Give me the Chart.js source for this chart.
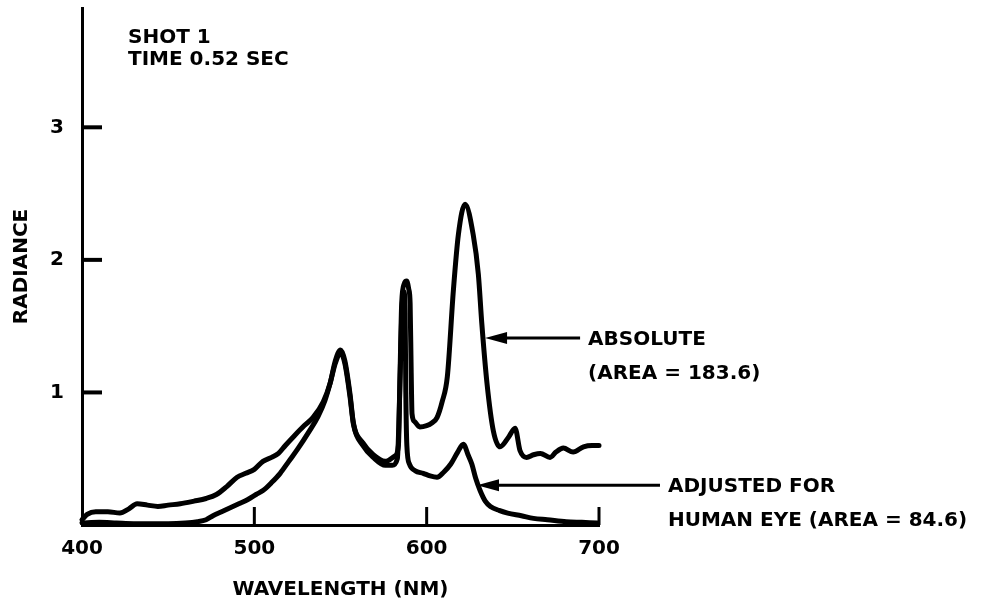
<!DOCTYPE html>
<html>
<head>
<meta charset="utf-8">
<script src="https://cdn.jsdelivr.net/npm/chart.js@4"></script>
<style>
  html, body { margin: 0; padding: 0; background: #fff; }
  #wrap { width: 984px; height: 607px; }
</style>
</head>
<body>
<div id="wrap"><canvas id="myChart"></canvas></div>
<script>
// absolute radiance (upper curve)
const absWave = [400, 403, 408, 415, 422, 427, 432, 438, 444, 450, 457, 465, 472, 478, 484, 490, 495, 500, 505, 510,
  514, 518, 523, 529, 534, 540, 544, 547, 550, 552.5, 555.5, 557.5, 563, 569, 576, 581.5, 583.6, 584.6, 585.5, 587,
  588.4, 589.6, 590.4, 591, 591.5, 593, 596, 600, 603, 606, 609, 612, 615.5, 618.4, 622.3, 627, 630, 632, 635, 638.7,
  642.6, 647.4, 651.3, 654.2, 658, 662, 666, 671.6, 675, 679.3, 685, 691, 696, 700]
const absRad = [0.04, 0.08, 0.10, 0.10, 0.09, 0.12, 0.16, 0.15, 0.14, 0.15, 0.16, 0.18, 0.20, 0.23, 0.29, 0.36, 0.39, 0.42, 0.48, 0.51,
  0.54, 0.60, 0.67, 0.75, 0.81, 0.93, 1.07, 1.24, 1.32, 1.24, 0.99, 0.77, 0.62, 0.53, 0.48, 0.52, 0.60, 1.17, 1.67, 1.82,
  1.84, 1.78, 1.67, 1.17, 0.84, 0.78, 0.74, 0.75, 0.77, 0.81, 0.93, 1.12, 1.77, 2.19, 2.42, 2.19, 1.89, 1.52, 1.07, 0.71,
  0.59, 0.66, 0.73, 0.56, 0.51, 0.53, 0.54, 0.51, 0.55, 0.58, 0.55, 0.59, 0.60, 0.60]

// adjusted for human eye (lower curve)
const adjWave = [400, 410, 420, 430, 440, 450, 460, 467, 472, 476, 481, 486, 491, 496, 501, 505, 510, 515, 520, 525,
  532, 537, 541, 544, 547, 550, 552.5, 555.5, 557.5, 563, 569, 576, 580, 583, 584.6, 585.6, 586.8, 587.5, 587.9, 588.5,
  590, 593.3, 598, 602, 606, 610, 614, 618, 621.3, 624, 626.2, 628.5, 631, 634, 637, 642, 647, 655, 662, 670, 681, 690, 699]
const adjRad = [0.015, 0.02, 0.015, 0.01, 0.01, 0.01, 0.015, 0.025, 0.04, 0.07, 0.10, 0.13, 0.16, 0.19, 0.23, 0.26, 0.32, 0.39, 0.48, 0.57,
  0.71, 0.82, 0.94, 1.07, 1.22, 1.30, 1.22, 0.97, 0.76, 0.60, 0.51, 0.45, 0.45, 0.50, 1.12, 1.60, 1.76, 1.60, 1.00, 0.60,
  0.46, 0.41, 0.39, 0.37, 0.36, 0.40, 0.46, 0.55, 0.61, 0.53, 0.46, 0.35, 0.26, 0.18, 0.14, 0.11, 0.09, 0.07, 0.05, 0.04, 0.025, 0.02, 0.015]

const xTickLabels = [400, 500, 600, 700]
const yTickLabels = [1, 2, 3]

const font = "'DejaVu Sans', 'Liberation Sans', sans-serif"

// arrows point at the curves (data coords), text sits to the right
const notes = [
  { x: 633.9, y: 1.41, len: 95, lines: ['ABSOLUTE', '(AREA = 183.6)'] },
  { x: 629.2, y: 0.30, len: 183, lines: ['ADJUSTED FOR', 'HUMAN EYE (AREA = 84.6)'] }
]

const extras = {
  id: 'extras',
  afterDraw(chart) {
    const ctx = chart.ctx
    const xs = chart.scales.x, ys = chart.scales.y
    const area = chart.chartArea
    ctx.save()
    ctx.strokeStyle = '#000'
    ctx.fillStyle = '#000'
    ctx.lineCap = 'butt'

    // tick marks point inward
    ctx.lineWidth = 3
    xTickLabels.slice(1).forEach(v => {
      const px = xs.getPixelForValue(v)
      ctx.beginPath(); ctx.moveTo(px, area.bottom); ctx.lineTo(px, area.bottom - 18); ctx.stroke()
    })
    ctx.lineWidth = 4
    yTickLabels.forEach(v => {
      const py = ys.getPixelForValue(v)
      ctx.beginPath(); ctx.moveTo(area.left, py); ctx.lineTo(area.left + 20, py); ctx.stroke()
    })

    ctx.font = 'bold 20px ' + font
    ctx.textBaseline = 'alphabetic'
    ctx.textAlign = 'left'
    ctx.fillText('SHOT 1', 128, 43)
    ctx.fillText('TIME 0.52 SEC', 128, 65)

    notes.forEach(n => {
      const tx = xs.getPixelForValue(n.x), ty = ys.getPixelForValue(n.y)
      const ex = tx + n.len
      ctx.lineWidth = 3
      ctx.beginPath(); ctx.moveTo(tx + 18, ty); ctx.lineTo(ex, ty); ctx.stroke()
      ctx.beginPath()
      ctx.moveTo(tx, ty); ctx.lineTo(tx + 22, ty - 6); ctx.lineTo(tx + 22, ty + 6); ctx.closePath()
      ctx.fill()
      ctx.fillText(n.lines[0], ex + 8, ty + 7)
      ctx.fillText(n.lines[1], ex + 8, ty + 41)
    })
    ctx.restore()
  }
}

const ctx = document.querySelector('#myChart')
new Chart(ctx, {
  type: 'line',
  data: {
    datasets: [{
      label: 'ABSOLUTE',
      data: absWave.map((w, i) => ({ x: w, y: absRad[i] })),
      borderColor: '#000',
      borderWidth: 5,
      pointRadius: 0,
      cubicInterpolationMode: 'monotone',
      borderJoinStyle: 'round',
      borderCapStyle: 'round',
      clip: false
    }, {
      label: 'ADJUSTED FOR HUMAN EYE',
      data: adjWave.map((w, i) => ({ x: w, y: adjRad[i] })),
      borderColor: '#000',
      borderWidth: 5,
      pointRadius: 0,
      cubicInterpolationMode: 'monotone',
      borderJoinStyle: 'round',
      borderCapStyle: 'round',
      clip: false
    }]
  },
  options: {
    responsive: true,
    maintainAspectRatio: false,
    animation: false,
    layout: { padding: { top: 8, right: 385, bottom: 0, left: 0 } },
    plugins: { legend: { display: false }, tooltip: { enabled: false } },
    scales: {
      x: {
        type: 'linear',
        min: 400,
        max: 700,
        grid: { drawOnChartArea: false, drawTicks: false },
        border: { display: true, color: '#000', width: 3 },
        ticks: {
          stepSize: 100,
          padding: 12,
          color: '#000',
          font: { family: font, size: 20, weight: 'bold' },
          callback: v => xTickLabels.includes(v) ? String(v) : ''
        },
        title: {
          display: true,
          text: 'WAVELENGTH (NM)',
          color: '#000',
          font: { family: font, size: 20, weight: 'bold' },
          padding: { top: 0, bottom: 5 }
        },
        afterFit: s => { s.height = 82; s.paddingLeft = 0; s.paddingRight = 0 }
      },
      y: {
        min: 0,
        max: 3.9,
        grid: { drawOnChartArea: false, drawTicks: false },
        border: { display: true, color: '#000', width: 3 },
        ticks: {
          stepSize: 1,
          padding: 18,
          color: '#000',
          font: { family: font, size: 20, weight: 'bold' },
          callback: v => yTickLabels.includes(v) ? String(v) : ''
        },
        title: {
          display: true,
          text: 'RADIANCE',
          color: '#000',
          font: { family: font, size: 20, weight: 'bold' },
          padding: { top: 10, bottom: 0 }
        },
        afterFit: s => { s.width = 82; s.paddingTop = 0; s.paddingBottom = 0 }
      }
    }
  },
  plugins: [extras]
})
</script>
</body>
</html>
